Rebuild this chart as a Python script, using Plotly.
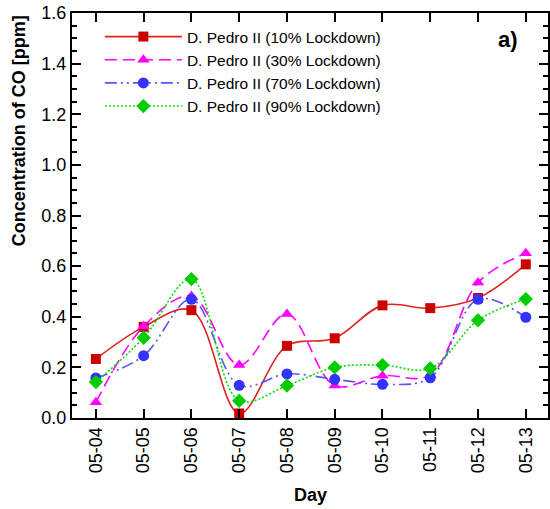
import plotly.graph_objects as go

days = ["05-04", "05-05", "05-06", "05-07", "05-08", "05-09", "05-10", "05-11", "05-12", "05-13"]
co_10 = [0.233, 0.360, 0.426, 0.018, 0.285, 0.315, 0.445, 0.434, 0.474, 0.607]
co_30 = [0.062, 0.362, 0.482, 0.209, 0.411, 0.128, 0.167, 0.170, 0.535, 0.651]
co_70 = [0.158, 0.246, 0.469, 0.129, 0.174, 0.153, 0.133, 0.159, 0.469, 0.398]
co_90 = [0.142, 0.317, 0.549, 0.068, 0.128, 0.200, 0.209, 0.196, 0.386, 0.470]

names = ["D. Pedro II (10% Lockdown)", "D. Pedro II (30% Lockdown)",
         "D. Pedro II (70% Lockdown)", "D. Pedro II (90% Lockdown)"]

FONT = "Liberation Sans, Arial, sans-serif"

series = [
    (co_10, names[0], "#DD2222", "solid", "square", 10, "#CC0000"),
    (co_30, names[1], "#FF00FF", "12px,6px", "triangle-up", 11, "#FF00FF"),
    (co_70, names[2], "#5555F5", "12px,4px,2px,4px,2px,4px", "circle", 11, "#3333FF"),
    (co_90, names[3], "#00DD00", "2px,2px", "diamond", 11, "#00CC00"),
]

fig = go.Figure()
for vals, name, lc, dash, sym, ms, mc in series:
    fig.add_trace(go.Scatter(
        x=days, y=vals, name=name, mode="lines+markers",
        line=dict(color=lc, width=1.6, dash=dash, shape="spline", smoothing=1),
        marker=dict(symbol=sym, size=ms, color=mc, line=dict(width=0)),
    ))

L, R, T, B = 72, 0, 13, 91
W, H = 550, 509
pw = W - L - R
ph = H - T - B

fig.update_layout(
    width=W, height=H,
    margin=dict(l=L, r=R, t=T, b=B, pad=0),
    plot_bgcolor="white", paper_bgcolor="white",
    font=dict(family=FONT, size=18, color="black"),
    showlegend=True,
    legend=dict(
        x=(100 - L) / pw, y=1 - (20 - T) / ph, xanchor="left", yanchor="top",
        bgcolor="rgba(0,0,0,0)", font=dict(family=FONT, size=15.5),
        itemwidth=77, tracegroupgap=0,
    ),
    annotations=[
        dict(text="<b>Concentration of CO [ppm]</b>", textangle=-90,
             xref="paper", yref="paper", x=(19 - L) / pw, y=1 - (131 - T) / ph,
             xanchor="center", yanchor="middle", showarrow=False,
             font=dict(family=FONT, size=18)),
        dict(text="<b>Day</b>", xref="paper", yref="paper",
             x=(311 - L) / pw, y=1 - (495 - T) / ph,
             xanchor="center", yanchor="middle", showarrow=False,
             font=dict(family=FONT, size=18)),
        dict(text="<b>a)</b>", xref="paper", yref="paper",
             x=(510 - L) / pw, y=1 - (39 - T) / ph,
             xanchor="center", yanchor="middle", showarrow=False,
             font=dict(family=FONT, size=22)),
    ],
)

fig.update_xaxes(
    type="category", range=[-0.5, 9.465],
    showline=True, linecolor="black", linewidth=2, mirror="allticks",
    ticks="inside", ticklen=9, tickwidth=2, tickcolor="black",
    tickangle=-90, showgrid=False, zeroline=False,
    tickfont=dict(family=FONT, size=18),
)
fig.update_yaxes(
    range=[0, 1.6], dtick=0.2, tick0=0, tickformat=".1f",
    showline=True, linecolor="black", linewidth=2, mirror="allticks",
    ticks="inside", ticklen=9, tickwidth=2, tickcolor="black",
    minor=dict(dtick=0.05, ticks="inside", ticklen=5, tickwidth=1.5, tickcolor="black"),
    showgrid=False, zeroline=False,
    tickfont=dict(family=FONT, size=18),
)

fig.write_html("out.html")
